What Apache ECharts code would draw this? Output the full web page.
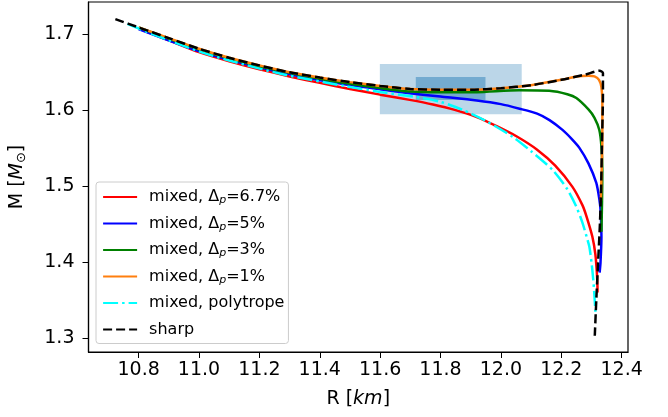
<!DOCTYPE html>
<html><head><meta charset="utf-8">
<script src="https://cdn.jsdelivr.net/npm/echarts@6/dist/echarts.min.js"></script>
<style>html,body{margin:0;padding:0;background:#fff}#c{width:668px;height:417px}</style>
</head><body><div id="c"></div>
<script>
// ---- data (R [km], M [Msun]) ----
const seriesNames = ['mixed, Δp=6.7%','mixed, Δp=5%','mixed, Δp=3%','mixed, Δp=1%','mixed, polytrope','sharp'];
const legendRich = ['{n|mixed, Δ}{s|p}{n|=6.7%}','{n|mixed, Δ}{s|p}{n|=5%}','{n|mixed, Δ}{s|p}{n|=3%}','{n|mixed, Δ}{s|p}{n|=1%}','{n|mixed, polytrope}','{n|sharp}'];
const xTicks = [10.8,11.0,11.2,11.4,11.6,11.8,12.0,12.2,12.4];
const yTicks = [1.3,1.4,1.5,1.6,1.7];
const mixed67 = [[10.803,1.707],[10.9,1.692],[11.0,1.6765],[11.1,1.6645],[11.2,1.654],[11.3,1.6445],[11.4,1.636],[11.5,1.628],[11.6,1.6205],[11.698,1.6136],[11.775,1.6075],[11.847,1.6004],[11.92,1.591],[11.986,1.579],[12.05,1.566],[12.12,1.548],[12.18,1.527],[12.237,1.4991],[12.27,1.475],[12.284,1.4596],[12.303,1.4333],[12.313,1.41],[12.318,1.385],[12.320,1.3635],[12.320,1.36]];
const mixed5 = [[10.80,1.707],[11.0,1.678],[11.2,1.6565],[11.4,1.6395],[11.6,1.6275],[11.698,1.6224],[11.80,1.618],[11.92,1.6128],[12.00,1.608],[12.062,1.602],[12.12,1.5955],[12.161,1.587],[12.204,1.5741],[12.235,1.562],[12.26,1.5504],[12.29,1.530],[12.316,1.5043],[12.326,1.483],[12.330,1.4688],[12.333,1.4333],[12.330,1.40],[12.327,1.386]];
const mixed3 = [[10.80,1.709],[11.0,1.680],[11.2,1.658],[11.4,1.6415],[11.55,1.632],[11.70,1.6245],[11.80,1.6235],[11.92,1.6237],[12.06,1.6262],[12.16,1.6255],[12.22,1.621],[12.25,1.616],[12.29,1.601],[12.31,1.590],[12.326,1.574],[12.333,1.552],[12.336,1.52],[12.335,1.48],[12.333,1.44]];
const mixed1 = [[10.80,1.709],[10.90,1.695],[11.00,1.681],[11.10,1.669],[11.20,1.659],[11.30,1.650],[11.40,1.643],[11.50,1.637],[11.60,1.632],[11.70,1.628],[11.80,1.627],[11.90,1.627],[12.00,1.629],[12.10,1.633],[12.20,1.640],[12.25,1.6445],[12.29,1.6455],[12.31,1.6445],[12.325,1.640],[12.333,1.630],[12.336,1.61],[12.336,1.56],[12.333,1.51],[12.331,1.48]];
const polytrope = [[10.763,1.7136],[10.85,1.6995],[11.0,1.6775],[11.1,1.6655],[11.27,1.648],[11.484,1.6317],[11.60,1.624],[11.732,1.6166],[11.80,1.611],[11.874,1.6004],[11.95,1.586],[12.039,1.5649],[12.10,1.546],[12.171,1.5214],[12.22,1.496],[12.250,1.4728],[12.27,1.452],[12.284,1.4333],[12.293,1.4201],[12.300,1.40],[12.306,1.3767],[12.310,1.355],[12.313,1.3346]];
const sharp = [[10.723,1.720],[10.80,1.709],[10.90,1.695],[11.00,1.681],[11.10,1.669],[11.20,1.659],[11.30,1.650],[11.40,1.643],[11.50,1.637],[11.60,1.632],[11.70,1.628],[11.80,1.627],[11.90,1.627],[12.00,1.629],[12.10,1.633],[12.20,1.640],[12.28,1.647],[12.327,1.652],[12.338,1.649],[12.338,1.62],[12.335,1.56],[12.332,1.50],[12.328,1.45],[12.322,1.40],[12.316,1.35],[12.311,1.303]];
const boxOuter = [[11.599,1.6609],[12.069,1.5948]];
const boxInner = [[11.718,1.6438],[11.949,1.6136]];

const colors = ['#ff0000','#0000ff','#008000','#ff7f0e','#00ffff','#000000'];
const styles = ['solid','solid','solid','solid',[15,4,2.5,4],[9,4]];
const datasets = [mixed67,mixed5,mixed3,mixed1,polytrope,sharp];
const FONT = 'DejaVu Sans';

const chart = echarts.init(document.getElementById('c'), null, {renderer:'canvas'});
const series = datasets.map((d,i)=>({
  name: seriesNames[i], type:'line', data:d, symbol:'none', smooth:0.25,
  lineStyle:{color:colors[i], width:2.5, type:styles[i]}, itemStyle:{color:colors[i]},
  z: 3+i, animation:false
}));
series.unshift({
  type:'line', data:[], silent:true, z:1,
  markArea:{silent:true, data:[
    [{coord:boxOuter[0], itemStyle:{color:'rgba(31,119,180,0.3)'}},{coord:boxOuter[1]}],
    [{coord:boxInner[0], itemStyle:{color:'rgba(31,119,180,0.45)'}},{coord:boxInner[1]}]
  ]}
});
chart.setOption({
  animation:false,
  grid:{left:88, right:40, top:2, bottom:65, show:true, borderColor:'#000', borderWidth:1.2},
  xAxis:{type:'value', min:10.634, max:12.421,
    name:'{n|R [}{i|km}{n|]}', nameLocation:'middle', nameGap:38,
    nameTextStyle:{rich:{n:{fontFamily:FONT,fontSize:19,color:'#000'},i:{fontFamily:FONT,fontSize:19,fontStyle:'italic',color:'#000'}}},
    axisLine:{show:true, lineStyle:{color:'#000', width:1.2}},
    axisTick:{show:true, length:6, lineStyle:{color:'#000'}, customValues:xTicks},
    axisLabel:{fontFamily:FONT, fontSize:19, color:'#000', margin:9, customValues:xTicks, formatter:v=>v.toFixed(1)},
    splitLine:{show:false}},
  yAxis:{type:'value', min:1.2816, max:1.7425,
    name:'{n|M [}{i|M}{s|⊙}{n|]}', nameLocation:'middle', nameGap:60, nameRotate:90,
    nameTextStyle:{rich:{n:{fontFamily:FONT,fontSize:19,color:'#000'},i:{fontFamily:FONT,fontSize:19,fontStyle:'italic',color:'#000'},s:{fontFamily:FONT,fontSize:13,color:'#000',padding:[9,0,0,0]}}},
    axisLine:{show:true, lineStyle:{color:'#000', width:1.2}},
    axisTick:{show:true, length:6, lineStyle:{color:'#000'}, customValues:yTicks},
    axisLabel:{fontFamily:FONT, fontSize:19, color:'#000', margin:14, customValues:yTicks, formatter:v=>v.toFixed(1)},
    splitLine:{show:false}},
  legend:{orient:'vertical', left:96, top:182,
    padding:[5,4,4,6], itemGap:6.5, itemWidth:34, itemHeight:14,
    backgroundColor:'rgba(255,255,255,0.8)', borderColor:'#cccccc', borderWidth:1, borderRadius:3,
    data:seriesNames,
    itemStyle:{opacity:0, borderWidth:0},
    lineStyle:{width:2.2},
    formatter:name=>legendRich[seriesNames.indexOf(name)],
    textStyle:{lineHeight:20, padding:[0,0,0,7], rich:{
      n:{fontFamily:FONT,fontSize:16,color:'#000'},
      s:{fontFamily:FONT,fontSize:11,fontStyle:'italic',color:'#000',padding:[7,0,0,0]}}}
  },
  series:series
});
</script></body></html>
